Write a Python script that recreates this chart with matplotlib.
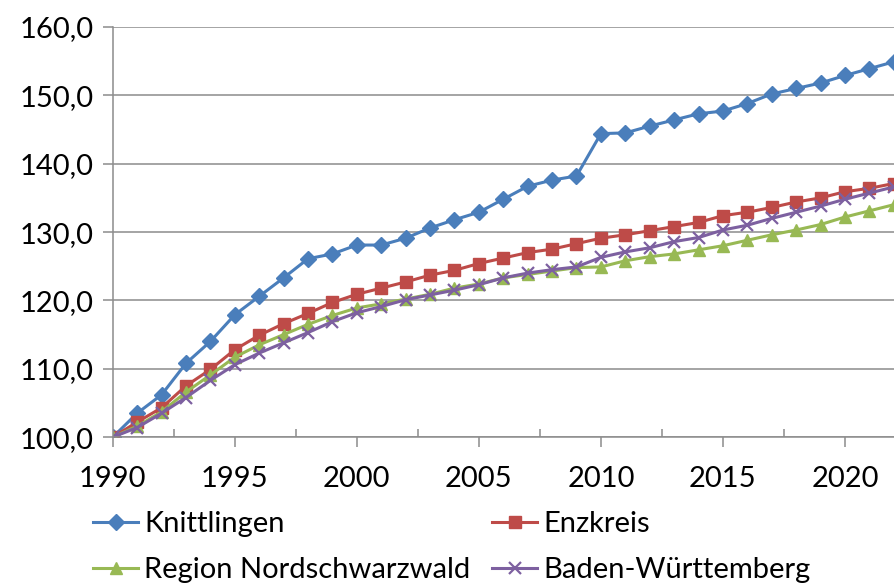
import matplotlib
matplotlib.use("Agg")
import matplotlib.pyplot as plt
from matplotlib.ticker import FuncFormatter, MultipleLocator, FixedLocator
import numpy as np

years = list(range(1990, 2023))

knittlingen = [100.0, 103.5, 106.2, 110.8, 114.0, 117.9, 120.6, 123.3, 126.1, 126.8,
               128.1, 128.1, 129.1, 130.6, 131.8, 132.9, 134.8, 136.7, 137.6, 138.2,
               144.4, 144.5, 145.5, 146.4, 147.3, 147.7, 148.8, 150.2, 151.0, 151.8,
               152.9, 153.9, 154.9]
enzkreis = [100.0, 102.2, 104.3, 107.5, 109.9, 112.8, 114.9, 116.6, 118.1, 119.7,
            120.9, 121.8, 122.7, 123.7, 124.4, 125.4, 126.2, 127.0, 127.5, 128.3,
            129.1, 129.6, 130.2, 130.8, 131.4, 132.4, 132.9, 133.6, 134.4, 135.0,
            135.9, 136.4, 137.1]
nordschwarzwald = [100.0, 101.6, 103.7, 106.6, 109.1, 111.7, 113.5, 115.0, 116.5, 117.8,
                   118.9, 119.5, 120.2, 120.9, 121.8, 122.4, 123.3, 123.8, 124.3, 124.8,
                   124.9, 125.8, 126.4, 126.8, 127.4, 128.0, 128.8, 129.6, 130.3, 131.1,
                   132.2, 133.1, 134.0]
bawue = [100.0, 101.4, 103.5, 105.8, 108.3, 110.6, 112.3, 113.8, 115.3, 116.9,
         118.2, 119.1, 120.1, 120.8, 121.5, 122.3, 123.3, 124.0, 124.5, 124.9,
         126.3, 127.1, 127.7, 128.6, 129.2, 130.3, 131.0, 132.0, 132.9, 133.8,
         134.8, 135.7, 136.6]

names = ["Knittlingen", "Enzkreis", "Region Nordschwarzwald", "Baden-Württemberg"]

plt.rcParams['font.family'] = ['Lato', 'DejaVu Sans']

fig = plt.figure(figsize=(8.95, 5.86), dpi=100)
ax = fig.add_axes([0.126, 0.254, 0.874, 0.7])

l1, = ax.plot(years, knittlingen, color='#4A7EBB', lw=2.2, marker='D', ms=8, label=names[0])
l2, = ax.plot(years, enzkreis, color='#BE4B48', lw=2.2, marker='s', ms=9, label=names[1])
l3, = ax.plot(years, nordschwarzwald, color='#98B954', lw=2.2, marker='^', ms=9, label=names[2])
l4, = ax.plot(years, bawue, color='#7D60A0', lw=2.2, marker='x', ms=9, mew=1.6, label=names[3])

ax.set_xlim(1990, 2022.05)
ax.set_ylim(100, 160)
ax.yaxis.set_major_locator(MultipleLocator(10))
ax.yaxis.set_major_formatter(FuncFormatter(lambda v, p: f"{v:.1f}".replace('.', ',')))
ax.xaxis.set_major_locator(MultipleLocator(5))
ax.xaxis.set_minor_locator(FixedLocator(np.arange(1992.5, 2022, 5)))
ax.xaxis.set_major_formatter(FuncFormatter(lambda v, p: f"{int(v)}"))

ax.grid(axis='y', color='#8C8C8C', lw=1.1)
ax.set_axisbelow(True)
for s in ['top', 'right']:
    ax.spines[s].set_visible(False)
for s in ['left', 'bottom']:
    ax.spines[s].set_color('#8C8C8C')
    ax.spines[s].set_linewidth(1.1)

ax.tick_params(axis='both', which='major', labelsize=21, color='#8C8C8C', width=1.1, length=7, direction='out')
ax.tick_params(axis='x', which='major', pad=14)
ax.tick_params(axis='y', which='major', pad=7)
ax.tick_params(axis='x', which='minor', direction='in', length=6, color='#8C8C8C', width=1.1)

# column-major order so rows read Knittlingen/Enzkreis, Region/BW
fig.legend([l1, l3, l2, l4], [names[0], names[2], names[1], names[3]],
           loc='upper left', bbox_to_anchor=(0.104, 0.128), ncol=2, frameon=False,
           fontsize=21, handlelength=1.55, handletextpad=0.2, columnspacing=0.75,
           labelspacing=0.7, borderaxespad=0, borderpad=0)

fig.savefig('out.png', dpi=100)
